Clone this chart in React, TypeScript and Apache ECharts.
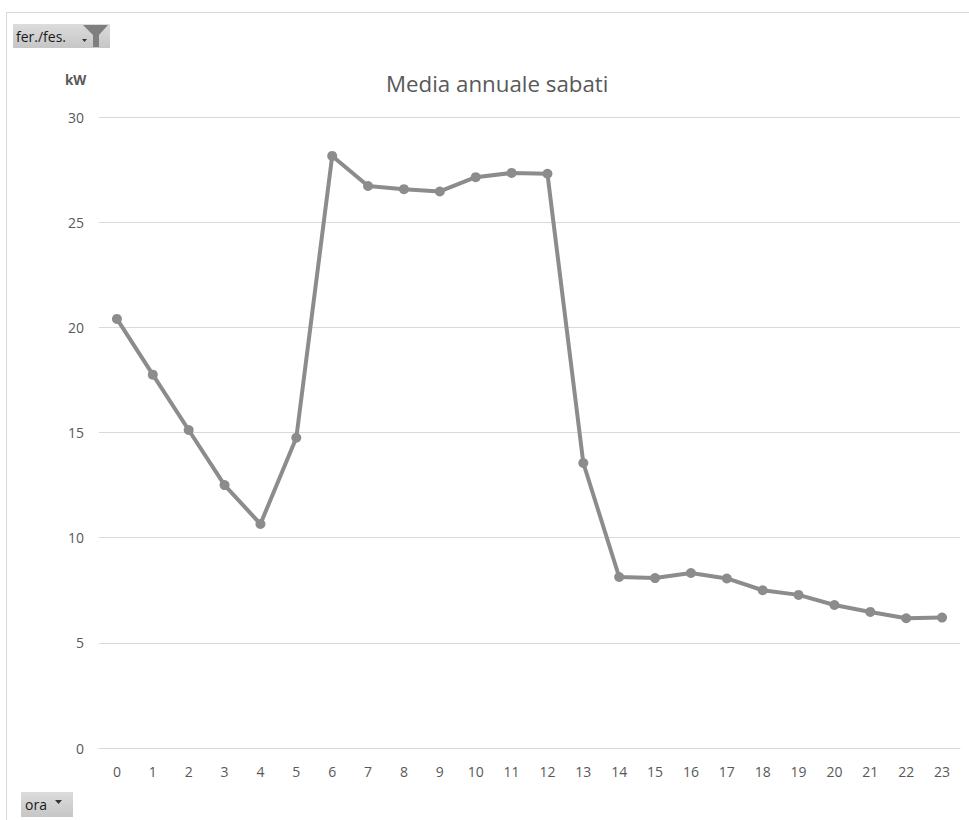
import React, { useEffect, useRef } from "react";
import * as echarts from "echarts";

const hours = ["0","1","2","3","4","5","6","7","8","9","10","11","12","13","14","15","16","17","18","19","20","21","22","23"];
const kwValues = [20.4, 17.75, 15.12, 12.5, 10.65, 14.75, 28.15, 26.72, 26.57, 26.46, 27.14, 27.34, 27.3, 13.55, 8.13, 8.08, 8.32, 8.06, 7.5, 7.28, 6.8, 6.47, 6.17, 6.2];
const titleText = "Media annuale sabati";
const yAxisName = "kW";
const filterLabel = "fer./fes.";
const axisFieldLabel = "ora";

const FONT = "'Open Sans', 'Liberation Sans', sans-serif";
const TEXT_COLOR = "#595959";

export default function App() {
  const ref = useRef<HTMLDivElement>(null);
  useEffect(() => {
    if (!ref.current) return;
    const chart = echarts.init(ref.current, null, { renderer: "svg" });
    const btnFill = new echarts.graphic.LinearGradient(0, 0, 0, 1, [
      { offset: 0, color: "#dcdcdc" },
      { offset: 1, color: "#c6c6c6" },
    ]);
    chart.setOption({
      animation: false,
      backgroundColor: "#ffffff",
      textStyle: { fontFamily: FONT },
      title: {
        text: titleText,
        left: 381,
        top: 67,
        textStyle: { fontFamily: FONT, fontSize: 22.3, fontWeight: "normal", color: TEXT_COLOR },
      },
      grid: { left: 99, right: 9, top: 117, bottom: 72 },
      xAxis: {
        type: "category",
        data: hours,
        boundaryGap: true,
        axisLine: { show: true, lineStyle: { color: "#d9d9d9", width: 1 } },
        axisTick: { show: false },
        axisLabel: { color: TEXT_COLOR, fontSize: 14, fontFamily: FONT, margin: 16 },
      },
      yAxis: {
        type: "value",
        min: 0,
        max: 30,
        interval: 5,
        axisLine: { show: false },
        axisTick: { show: false },
        axisLabel: { color: TEXT_COLOR, fontSize: 14, fontFamily: FONT, margin: 15 },
        splitLine: { lineStyle: { color: "#d9d9d9", width: 1 } },
      },
      series: [
        {
          type: "line",
          data: kwValues,
          symbol: "circle",
          symbolSize: 10,
          lineStyle: { color: "#8c8c8c", width: 4 },
          itemStyle: { color: "#8c8c8c" },
        },
      ],
      graphic: [
        { type: "line", shape: { x1: 6, y1: 12.5, x2: 969, y2: 12.5 }, style: { stroke: "#d9d9d9", lineWidth: 1 } },
        { type: "line", shape: { x1: 6.5, y1: 12, x2: 6.5, y2: 820 }, style: { stroke: "#d9d9d9", lineWidth: 1 } },
        { type: "text", x: 65, y: 80, style: { text: yAxisName, fill: TEXT_COLOR, font: `bold 13.5px ${FONT}`, verticalAlign: "middle" } },
        { type: "rect", shape: { x: 13, y: 24, width: 97, height: 24 }, style: { fill: btnFill } },
        { type: "text", x: 16, y: 36, style: { text: filterLabel, fill: "#1a1a1a", font: `14px ${FONT}`, verticalAlign: "middle" } },
        { type: "polygon", shape: { points: [[82, 39], [87, 39], [84.5, 42]] }, style: { fill: "#333333" } },
        { type: "polygon", shape: { points: [[83, 25], [108, 25], [99, 35], [99, 47], [93, 47], [93, 35]] }, style: { fill: "#7f7f7f" } },
        { type: "rect", shape: { x: 21, y: 792, width: 52, height: 25 }, style: { fill: btnFill } },
        { type: "text", x: 25, y: 804, style: { text: axisFieldLabel, fill: "#1a1a1a", font: `14px ${FONT}`, verticalAlign: "middle" } },
        { type: "polygon", shape: { points: [[55, 800], [62, 800], [58.5, 804]] }, style: { fill: "#333333" } },
      ],
    });
    return () => chart.dispose();
  }, []);
  return <div ref={ref} style={{ position: "fixed", left: 0, top: 0, width: 969, height: 820 }} />;
}
